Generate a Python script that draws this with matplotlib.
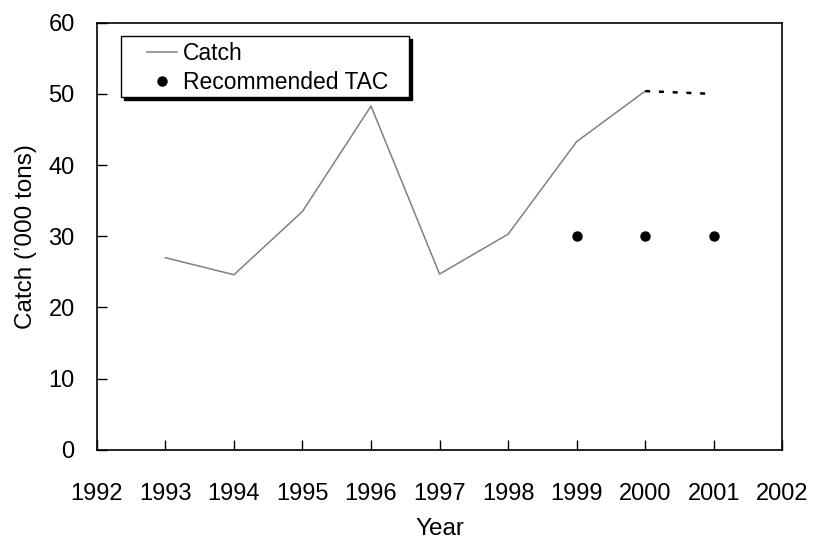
import matplotlib
matplotlib.use("Agg")
import matplotlib.pyplot as plt
from matplotlib.patches import Rectangle

plt.rcParams['font.family'] = ['Liberation Sans', 'DejaVu Sans']

years = [1993, 1994, 1995, 1996, 1997, 1998, 1999, 2000]
catch = [27.0, 24.6, 33.5, 48.3, 24.7, 30.3, 43.3, 50.4]
proj_years = [2000, 2001]
proj_catch = [50.4, 50.0]
tac_years = [1999, 2000, 2001]
tac = [30, 30, 30]
xticks = list(range(1992, 2003))
yticks = [0, 10, 20, 30, 40, 50, 60]

W, H = 814, 542
fig = plt.figure(figsize=(W / 100, H / 100), dpi=100)
ax = fig.add_axes([0.119, 0.170, 0.842, 0.788])

ax.plot(years, catch, color='#808080', lw=1.1, label='Catch')
ax.plot(proj_years, proj_catch, color='black', lw=1.8, linestyle=(0, (2, 3.5)))
ax.plot(tac_years, tac, 'o', color='black', markersize=6.5, linestyle='none',
        label='Recommended TAC')

ax.set_xlim(1992, 2002)
ax.set_ylim(0, 60)
ax.set_xticks(xticks)
ax.set_yticks(yticks)
ax.tick_params(axis='both', direction='in', length=7, width=1, labelsize=17)
ax.tick_params(axis='x', pad=24)
ax.tick_params(axis='y', pad=16)
for s in ax.spines.values():
    s.set_linewidth(1.2)

ax.set_xlabel('Year', fontsize=17.5, labelpad=9)
ax.set_ylabel("Catch (\u2019000 tons)", fontsize=17.5, labelpad=8)

# legend frame with hard shadow
x0, x1, yt, yb = 121, 409, 36, 97
sh = 3
fig.patches.append(Rectangle(((x0 + sh) / W, 1 - (yb + sh) / H), (x1 - x0) / W, (yb - yt) / H,
                             transform=fig.transFigure, facecolor='black', edgecolor='black',
                             lw=1, zorder=5))
fig.patches.append(Rectangle((x0 / W, 1 - yb / H), (x1 - x0) / W, (yb - yt) / H,
                             transform=fig.transFigure, facecolor='white', edgecolor='black',
                             lw=1.0, zorder=6))

leg = ax.legend(loc='upper left', bbox_to_anchor=(147 / W, 1 - 42 / H), bbox_transform=fig.transFigure,
                fontsize=16.5, frameon=False, handlelength=1.3,
                handletextpad=0.25, labelspacing=0.27, borderpad=0, borderaxespad=0)
leg.set_zorder(7)
leg.remove()
fig.legends.append(leg)
leg.figure = fig

fig.savefig('out.png', dpi=100)
